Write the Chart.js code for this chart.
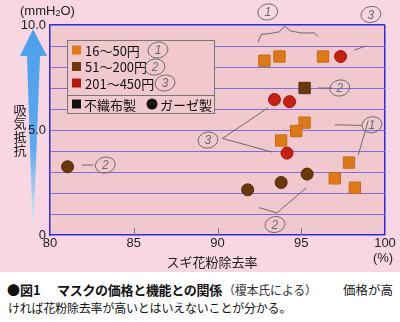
<!DOCTYPE html>
<html>
<head>
<meta charset="utf-8">
<script src="https://cdn.jsdelivr.net/npm/chart.js@4.4.0/dist/chart.umd.min.js"></script>
<style>
  body { margin: 0; background: #fff; width: 400px; height: 322px; overflow: hidden; position: relative; }
  #wrap { width: 400px; height: 272px; background: #f7d6e0; }
  .cap {
    position: absolute;
    font-family: "Noto Sans CJK JP", sans-serif;
    color: #111;
    white-space: nowrap;
    line-height: 1;
  }
</style>
</head>
<body>
<div id="wrap"><canvas id="chart" width="400" height="272"></canvas></div>
<span class="cap" style="left:7px;top:283px;font-size:13px;font-weight:bold;">●図1</span>
<span class="cap" style="left:57px;top:283px;font-size:13px;font-weight:bold;letter-spacing:-0.3px;">マスクの価格と機能との関係</span>
<span class="cap" style="left:223px;top:284px;font-size:12px;letter-spacing:-0.25px;color:#333;">（榎本氏による）</span>
<span class="cap" style="left:343px;top:284px;font-size:12.5px;">価格が高</span>
<span class="cap" style="left:8px;top:302px;font-size:12px;letter-spacing:-0.2px;">ければ花粉除去率が高いとはいえないことが分かる。</span>
<script>
// legend labels and colours
const priceLabels = ['16～50円', '51～200円', '201～450円'];
const priceColors = ['#de7a16', '#6a3a0e', '#b41a0a'];
const typeLabels = ['不織布製', 'ガーゼ製'];

// 16~50 yen, non-woven (squares)
const lowNonwovenX = [92.8, 93.7, 96.3, 95.2, 94.7, 93.8, 97.85, 97.0, 98.2];
const lowNonwovenY = [8.3, 8.5, 8.5, 5.35, 4.95, 4.5, 3.45, 2.7, 2.25];
// 51~200 yen, non-woven
const midNonwovenX = [95.2];
const midNonwovenY = [7.0];
// 201~450 yen, gauze (circles)
const highGauzeX = [97.35, 93.4, 94.3, 94.15];
const highGauzeY = [8.5, 6.45, 6.35, 3.9];
// 51~200 yen, gauze
const midGauzeX = [81.05, 95.35, 93.8, 91.8];
const midGauzeY = [3.25, 2.9, 2.5, 2.15];

// handwritten pencil notes (data coords)
const noteCircles = [
  { t: '1', x: 93.0, y: 10.62 }, { t: '3', x: 99.16, y: 10.5 },
  { t: '2', x: 97.3, y: 7.0 }, { t: '3', x: 89.43, y: 4.52 },
  { t: '1', x: 99.22, y: 5.25 }, { t: '2', x: 93.43, y: 0.5 },
  { t: '2', x: 83.3, y: 3.33 }
];
const noteLines = [
  [[92.42, 9.19], [92.6, 9.55], [93.2, 9.6], [93.7, 9.68], [94.0, 9.95], [94.35, 9.72], [95.0, 9.62], [95.8, 9.62], [96.0, 9.45]],
  [[98.15, 8.8], [98.85, 9.0]],
  [[96.0, 7.0], [96.85, 7.0]],
  [[93.0, 6.05], [90.3, 4.6], [93.25, 3.95]],
  [[98.4, 3.8], [99.0, 5.45]],
  [[97.0, 5.25], [98.6, 5.22]],
  [[92.5, 1.3], [93.55, 1.05], [95.3, 2.25]],
  [[81.9, 3.33], [82.6, 3.33]]
];

function toPoints(xs, ys) {
  return xs.map((x, i) => ({ x: x, y: ys[i] }));
}

const BLUE = '#2b2be6';
const GRID = '#7a70dc';
const PENCIL = '#6c6c6c';
const JP = '"Noto Sans CJK JP", sans-serif';
const NUM = '"Liberation Sans", Arial, sans-serif';

function pencilCircle(ctx, t, x, y) {
  ctx.save();
  ctx.strokeStyle = PENCIL;
  ctx.lineWidth = 1;
  ctx.beginPath();
  ctx.ellipse(x, y, 10, 8, -0.2, 0, Math.PI * 2);
  ctx.stroke();
  ctx.fillStyle = PENCIL;
  ctx.font = 'italic 12px ' + NUM;
  ctx.textAlign = 'center';
  ctx.textBaseline = 'middle';
  ctx.fillText(t, x, y + 1);
  ctx.restore();
}

const decor = {
  id: 'decor',
  beforeDraw(chart) {
    const ctx = chart.ctx;
    const a = chart.chartArea;
    ctx.save();
    ctx.fillStyle = '#f8d7e2';
    ctx.fillRect(0, 0, chart.width, chart.height);
    ctx.fillStyle = '#f1c8ce';
    ctx.fillRect(a.left, a.top, a.right - a.left, a.bottom - a.top);

    // blue arrow
    const g = ctx.createLinearGradient(0, 28, 0, 225);
    g.addColorStop(0, '#4b9fe9');
    g.addColorStop(0.6, '#5aaaf0');
    g.addColorStop(1, '#d8ecfa');
    ctx.fillStyle = g;
    ctx.beginPath();
    ctx.moveTo(33, 29);
    ctx.lineTo(47, 56);
    ctx.lineTo(40, 56);
    ctx.lineTo(33.6, 226);
    ctx.lineTo(32.6, 226);
    ctx.lineTo(27, 56);
    ctx.lineTo(20, 56);
    ctx.closePath();
    ctx.fill();

    // unit + vertical title
    ctx.fillStyle = '#222';
    ctx.textBaseline = 'middle';
    ctx.font = '13px ' + NUM;
    ctx.textAlign = 'left';
    ctx.fillText('(mmH', 20, 11);
    let w = ctx.measureText('(mmH').width;
    ctx.font = '9px ' + NUM;
    ctx.fillText('2', 20 + w, 14);
    let w2 = ctx.measureText('2').width;
    ctx.font = '13px ' + NUM;
    ctx.fillText('O)', 20 + w + w2, 11);
    ctx.font = '13px ' + JP;
    ctx.textAlign = 'center';
    ['吸', '気', '抵', '抗'].forEach((c, i) => ctx.fillText(c, 20, 110 + i * 13.5));
    ctx.restore();
  },
  beforeDatasetsDraw(chart) {
    const ctx = chart.ctx;
    const a = chart.chartArea;
    const xs = chart.scales.x;
    ctx.save();
    // small inner ticks
    ctx.strokeStyle = '#777';
    ctx.lineWidth = 1;
    [85, 90, 95].forEach(v => {
      const px = Math.round(xs.getPixelForValue(v)) + 0.5;
      ctx.beginPath();
      ctx.moveTo(px, a.bottom - 7);
      ctx.lineTo(px, a.bottom);
      ctx.stroke();
    });

    // legend box
    const L = 67, T = 40, R = 214, B = 113;
    ctx.fillStyle = '#f1c8ce';
    ctx.fillRect(L, T, R - L, B - T);
    ctx.strokeStyle = '#777';
    ctx.strokeRect(L + 0.5, T + 0.5, R - L, B - T);
    ctx.beginPath();
    ctx.moveTo(L, 95.5);
    ctx.lineTo(R, 95.5);
    ctx.stroke();
    ctx.font = '13px ' + JP;
    ctx.textBaseline = 'middle';
    ctx.textAlign = 'left';
    priceLabels.forEach((lab, i) => {
      const cy = 50 + i * 16.5;
      ctx.fillStyle = priceColors[i];
      ctx.fillRect(72, cy - 4.5, 9, 9);
      ctx.fillStyle = '#111';
      ctx.fillText(lab, 85, cy + 1);
    });
    ctx.fillStyle = '#111';
    ctx.fillRect(72, 99.5, 9, 9);
    ctx.fillText(typeLabels[0], 84, 105);
    ctx.beginPath();
    ctx.arc(152, 104, 5.5, 0, Math.PI * 2);
    ctx.fill();
    ctx.fillText(typeLabels[1], 160, 105);
    ctx.restore();
    pencilCircle(ctx, '1', 158, 50);
    pencilCircle(ctx, '2', 155, 67);
    pencilCircle(ctx, '3', 165, 83);

    // x axis titles
    ctx.save();
    ctx.fillStyle = '#222';
    ctx.textBaseline = 'middle';
    ctx.textAlign = 'center';
    ctx.font = '13px ' + JP;
    ctx.fillText('スギ花粉除去率', 212, 262);
    ctx.font = '13px ' + NUM;
    ctx.fillText('(%)', xs.getPixelForValue(100) - 2, 258);
    ctx.restore();
  },
  afterDraw(chart) {
    const ctx = chart.ctx;
    const xs = chart.scales.x, ys = chart.scales.y;
    ctx.save();
    ctx.strokeStyle = PENCIL;
    ctx.lineWidth = 1;
    noteLines.forEach(pts => {
      ctx.beginPath();
      pts.forEach((p, i) => {
        const px = xs.getPixelForValue(p[0]), py = ys.getPixelForValue(p[1]);
        if (i === 0) ctx.moveTo(px, py); else ctx.lineTo(px, py);
      });
      ctx.stroke();
    });
    ctx.restore();
    noteCircles.forEach(n => pencilCircle(ctx, n.t, xs.getPixelForValue(n.x), ys.getPixelForValue(n.y)));
  }
};

new Chart(document.getElementById('chart'), {
  type: 'scatter',
  data: {
    datasets: [
      { label: priceLabels[0] + typeLabels[0], data: toPoints(lowNonwovenX, lowNonwovenY), pointStyle: 'rect', pointRadius: 8, backgroundColor: priceColors[0], borderColor: '#c86a10', borderWidth: 1 },
      { label: priceLabels[1] + typeLabels[0], data: toPoints(midNonwovenX, midNonwovenY), pointStyle: 'rect', pointRadius: 8, backgroundColor: priceColors[1], borderColor: '#55300a', borderWidth: 1 },
      { label: priceLabels[2] + typeLabels[1], data: toPoints(highGauzeX, highGauzeY), pointStyle: 'circle', pointRadius: 6, backgroundColor: '#c82012', borderColor: '#9a1408', borderWidth: 1 },
      { label: priceLabels[1] + typeLabels[1], data: toPoints(midGauzeX, midGauzeY), pointStyle: 'circle', pointRadius: 6, backgroundColor: '#6b3808', borderColor: '#4e2805', borderWidth: 1 }
    ]
  },
  options: {
    responsive: false,
    animation: false,
    devicePixelRatio: 1,
    layout: { padding: { left: 0, right: 15, top: 25, bottom: 0 } },
    plugins: { legend: { display: false }, tooltip: { enabled: false } },
    scales: {
      x: {
        type: 'linear', min: 80, max: 100,
        afterFit(s) { s.height = 37; },
        ticks: { stepSize: 5, padding: 1, color: '#222', font: { family: NUM, size: 13 } },
        grid: { drawTicks: false, color: c => c.tick.value === 100 ? BLUE : 'rgba(0,0,0,0)', lineWidth: 1.5 },
        border: { color: BLUE, width: 1.5 }
      },
      y: {
        min: 0, max: 10,
        afterFit(s) { s.width = 50; },
        ticks: {
          stepSize: 1, padding: 4, color: '#222', font: { family: NUM, size: 13 },
          callback: v => v === 0 ? '0' : (v % 5 === 0 ? v.toFixed(1) : '')
        },
        grid: {
          drawTicks: false,
          color: c => c.tick.value === 10 ? BLUE : (c.tick.value === 0 ? 'rgba(0,0,0,0)' : GRID),
          lineWidth: c => c.tick.value === 10 ? 1.5 : 1
        },
        border: { color: BLUE, width: 1.5 }
      }
    }
  },
  plugins: [decor]
});
</script>
</body>
</html>
